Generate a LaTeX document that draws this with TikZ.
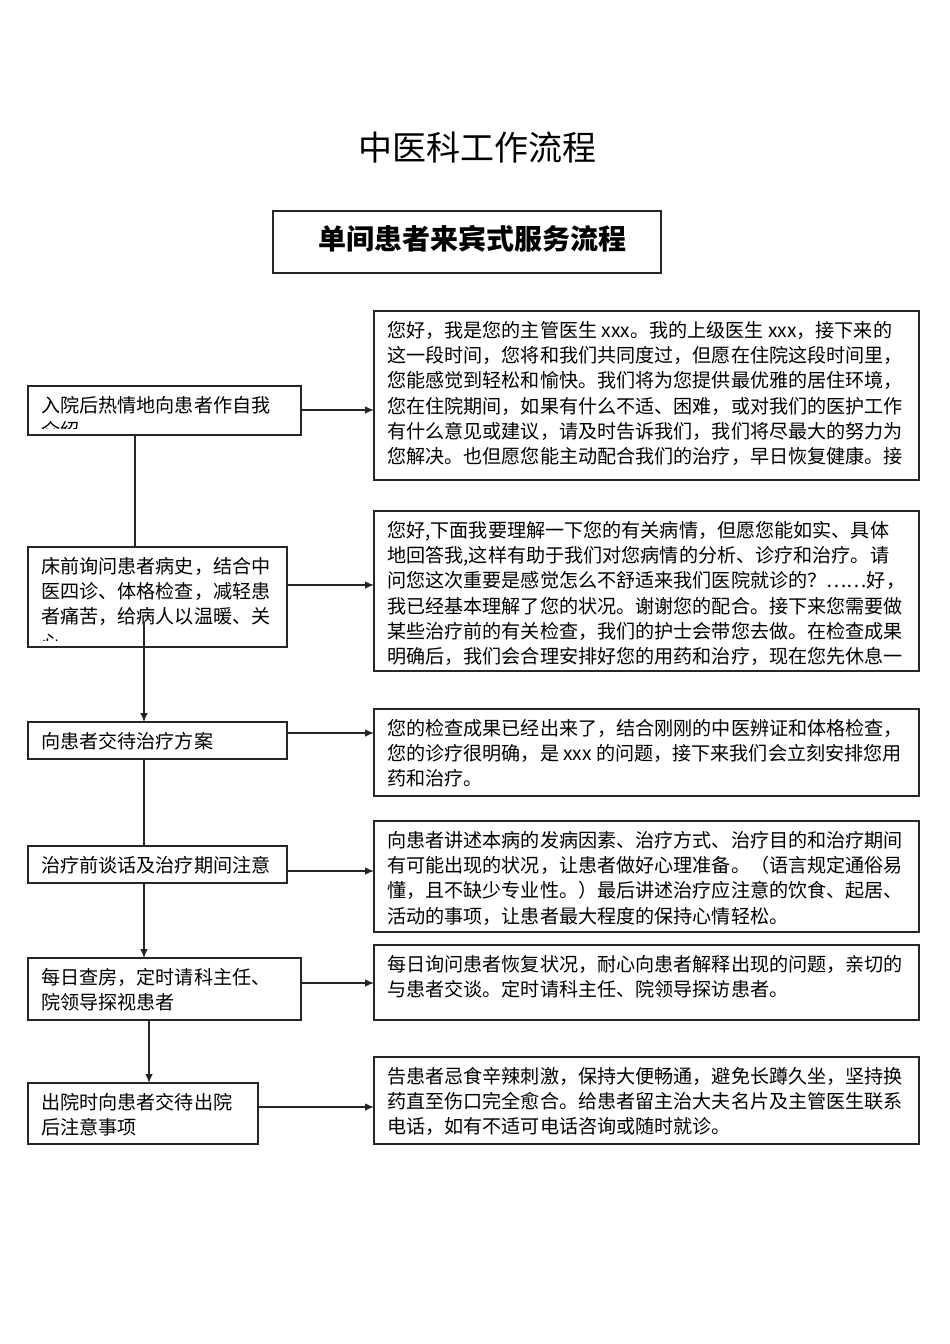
\documentclass[tikz,border=0pt]{standalone}
\usepackage{fontspec}
\newfontfamily\zhfont{Noto Sans CJK SC}
\usetikzlibrary{arrows.meta}
\tikzset{
  flowbox/.style={draw=black!85, line width=1.2pt, rectangle, anchor=north west, inner sep=0pt, outer sep=0pt},
  flowtxt/.style={anchor=north west, inner sep=0pt, align=left, font=\zhfont\fontsize{19.1}{25.3}\selectfont},
  link/.style={line width=1.1pt, draw=black!85},
  tip/.style={-{Latex[length=9pt,width=7.5pt]}},
}

\begin{document}
\begin{tikzpicture}[x=1pt,y=-1pt]
 \useasboundingbox[fill=white] (0,0) rectangle (950,1344);

 % titles
 \node[font=\zhfont\fontsize{34}{40}\selectfont] (title) at (477,148) {中医科工作流程};
 \node[flowbox, minimum width=388pt, minimum height=62pt] (head) at (273,211) {};
 \node[font=\zhfont\bfseries\fontsize{28}{32}\selectfont] (headt) at (472,239) {单间患者来宾式服务流程};

 % left column
 \node[flowbox, minimum width=273pt, minimum height=49pt] (L1) at (28,386) {};
 \begin{scope}
  \clip (L1.north west) rectangle ([yshift=6.5pt]L1.south east);
  \node[flowtxt] (L1t) at ([shift={(13pt,-10pt)}]L1.north west) {入院后热情地向患者作自我\\介绍};
 \end{scope}
 \node[flowbox, minimum width=259pt, minimum height=100pt] (L2) at (28,547) {};
 \begin{scope}
  \clip (L2.north west) rectangle ([yshift=7pt]L2.south east);
  \node[flowtxt] (L2t) at ([shift={(13pt,-10pt)}]L2.north west) {床前询问患者病史，结合中\\医四诊、体格检查，减轻患\\者痛苦，给病人以温暖、关\\心};
 \end{scope}
 \node[flowbox, minimum width=259pt, minimum height=37pt] (L3) at (28,722) {};
 \node[flowtxt] (L3t) at ([shift={(13pt,-10pt)}]L3.north west) {向患者交待治疗方案};
 \node[flowbox, minimum width=259pt, minimum height=37pt] (L4) at (28,846) {};
 \node[flowtxt] (L4t) at ([shift={(13pt,-10pt)}]L4.north west) {治疗前谈话及治疗期间注意};
 \node[flowbox, minimum width=273pt, minimum height=62pt] (L5) at (28,958) {};
 \node[flowtxt] (L5t) at ([shift={(13pt,-10pt)}]L5.north west) {每日查房，定时请科主任、\\院领导探视患者};
 \node[flowbox, minimum width=230pt, minimum height=61pt] (L6) at (28,1083) {};
 \node[flowtxt] (L6t) at ([shift={(13pt,-10pt)}]L6.north west) {出院时向患者交待出院\\后注意事项};

 % right column
 \node[flowbox, minimum width=545pt, minimum height=169pt] (R1) at (374,311) {};
 \node[flowtxt] (R1t) at ([shift={(13pt,-10pt)}]R1.north west) {您好，我是您的主管医生 xxx。我的上级医生 xxx，接下来的\\这一段时间，您将和我们共同度过，但愿在住院这段时间里，\\您能感觉到轻松和愉快。我们将为您提供最优雅的居住环境，\\您在住院期间，如果有什么不适、困难，或对我们的医护工作\\有什么意见或建议，请及时告诉我们，我们将尽最大的努力为\\您解决。也但愿您能主动配合我们的治疗，早日恢复健康。接};
 \node[flowbox, minimum width=545pt, minimum height=160pt] (R2) at (374,511) {};
 \node[flowtxt] (R2t) at ([shift={(13pt,-10pt)}]R2.north west) {您好,下面我要理解一下您的有关病情，但愿您能如实、具体\\地回答我,这样有助于我们对您病情的分析、诊疗和治疗。请\\问您这次重要是感觉怎么不舒适来我们医院就诊的？……好，\\我已经基本理解了您的状况。谢谢您的配合。接下来您需要做\\某些治疗前的有关检查，我们的护士会带您去做。在检查成果\\明确后，我们会合理安排好您的用药和治疗，现在您先休息一};
 \node[flowbox, minimum width=545pt, minimum height=87pt] (R3) at (374,709) {};
 \node[flowtxt] (R3t) at ([shift={(13pt,-10pt)}]R3.north west) {您的检查成果已经出来了，结合刚刚的中医辨证和体格检查，\\您的诊疗很明确，是 xxx 的问题，接下来我们会立刻安排您用\\药和治疗。};
 \node[flowbox, minimum width=545pt, minimum height=111pt] (R4) at (374,821) {};
 \node[flowtxt] (R4t) at ([shift={(13pt,-10pt)}]R4.north west) {向患者讲述本病的发病因素、治疗方式、治疗目的和治疗期间\\有可能出现的状况，让患者做好心理准备。（语言规定通俗易\\懂，且不缺少专业性。）最后讲述治疗应注意的饮食、起居、\\活动的事项，让患者最大程度的保持心情轻松。};
 \node[flowbox, minimum width=545pt, minimum height=75pt] (R5) at (374,945) {};
 \node[flowtxt] (R5t) at ([shift={(13pt,-10pt)}]R5.north west) {每日询问患者恢复状况，耐心向患者解释出现的问题，亲切的\\与患者交谈。定时请科主任、院领导探访患者。};
 \node[flowbox, minimum width=545pt, minimum height=87pt] (R6) at (374,1057) {};
 \node[flowtxt] (R6t) at ([shift={(13pt,-10pt)}]R6.north west) {告患者忌食辛辣刺激，保持大便畅通，避免长蹲久坐，坚持换\\药直至伤口完全愈合。给患者留主治大夫名片及主管医生联系\\电话，如有不适可电话咨询或随时就诊。};

 % arrows to the right
 \coordinate (a1) at (0,410);
 \coordinate (a2) at (0,585);
 \coordinate (a3) at (0,733);
 \coordinate (a4) at (0,871);
 \coordinate (a5) at (0,983);
 \coordinate (a6) at (0,1107);
 \draw[link,tip] (L1.east |- a1) -- (R1.west |- a1);
 \draw[link,tip] (L2.east |- a2) -- (R2.west |- a2);
 \draw[link,tip] (L3.east |- a3) -- (R3.west |- a3);
 \draw[link,tip] (L4.east |- a4) -- (R4.west |- a4);
 \draw[link,tip] (L5.east |- a5) -- (R5.west |- a5);
 \draw[link,tip] (L6.east |- a6) -- (R6.west |- a6);

 % downward links
 \coordinate (v1) at (135,0);
 \coordinate (v2) at (144,622);
 \coordinate (v5) at (149,0);
 \draw[link] (L1.south -| v1) -- (L2.north -| v1);
 \draw[link,tip] (v2) -- (v2 |- L3.north);
 \draw[link] (L3.south -| v2) -- (L4.north -| v2);
 \draw[link,tip] (L4.south -| v2) -- (L5.north -| v2);
 \draw[link,tip] (L5.south -| v5) -- (L6.north -| v5);

\end{tikzpicture}
\end{document}
